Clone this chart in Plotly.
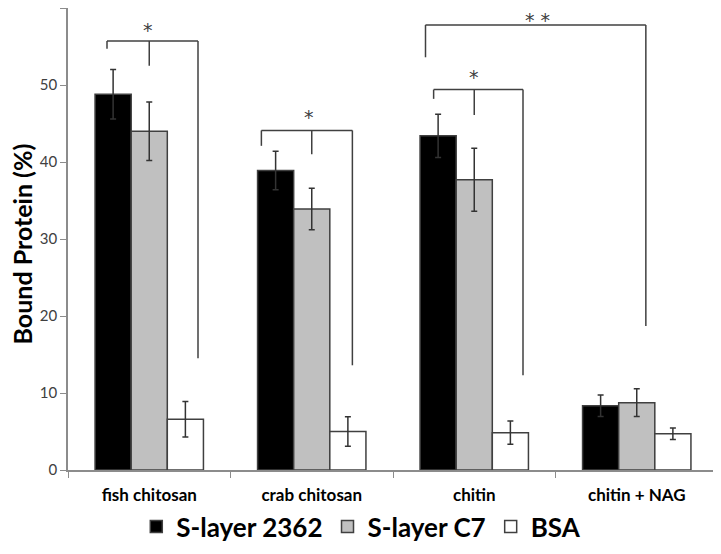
import plotly.graph_objects as go

categories = ["fish chitosan", "crab chitosan", "chitin", "chitin + NAG"]
series_names = ["S-layer 2362", "S-layer C7", "BSA"]
s2362 = [48.8, 38.9, 43.4, 8.35]
s2362_err = [3.2, 2.5, 2.8, 1.4]
sc7 = [44.0, 33.9, 37.7, 8.75]
sc7_err = [3.8, 2.7, 4.1, 1.8]
bsa = [6.6, 5.0, 4.85, 4.7]
bsa_err = [2.3, 1.9, 1.5, 0.75]
colors = ["#000000", "#c0c0c0", "#ffffff"]

# significance brackets (x in category-index units, y in %)
br_top = [55.7, 44.1, 49.4, 57.8]
br_left_x = [-0.26, 0.69, 1.75, 1.70]
br_left_end = [54.7, 42.1, 48.2, 53.6]
br_right_x = [0.30, 1.25, 2.30, 3.056]
br_right_end = [14.5, 13.6, 12.3, 18.7]
br_mid_x = [0.0, 1.0, 2.0, None]
br_mid_end = [52.5, 41.0, 46.1, None]
star_text = ["*", "*", "*", "* *"]
star_x = [-0.01, 0.98, 2.0, 2.39]
star_y = [57.2, 45.8, 51.0, 58.4]

FONT = "Lato"
fig = go.Figure()
for name, vals, errs, col in zip(series_names, [s2362, sc7, bsa], [s2362_err, sc7_err, bsa_err], colors):
    fig.add_trace(go.Bar(
        name=name, x=categories, y=vals,
        marker=dict(color=col, line=dict(color="#404040", width=1.5)),
        error_y=dict(type="data", array=errs, color="#333333", thickness=1.5, width=3),
    ))

line = dict(color="#404040", width=1.5)
shapes = []
for i in range(len(br_top)):
    shapes.append(dict(type="line", xref="x", yref="y", x0=br_left_x[i], x1=br_right_x[i], y0=br_top[i], y1=br_top[i], line=line))
    shapes.append(dict(type="line", xref="x", yref="y", x0=br_left_x[i], x1=br_left_x[i], y0=br_top[i], y1=br_left_end[i], line=line))
    shapes.append(dict(type="line", xref="x", yref="y", x0=br_right_x[i], x1=br_right_x[i], y0=br_top[i], y1=br_right_end[i], line=line))
    if br_mid_x[i] is not None:
        shapes.append(dict(type="line", xref="x", yref="y", x0=br_mid_x[i], x1=br_mid_x[i], y0=br_top[i], y1=br_mid_end[i], line=line))

annotations = [dict(x=sx, y=sy, xref="x", yref="y", text=t, showarrow=False,
                    font=dict(family="DejaVu Sans", size=19, color="#404040"), yanchor="middle")
               for sx, sy, t in zip(star_x, star_y, star_text)]
annotations.append(dict(x=-0.071, y=0.49, xref="paper", yref="paper", text="<b>Bound Protein (%)</b>",
                        textangle=-90, showarrow=False, xanchor="center", yanchor="middle",
                        font=dict(family=FONT, size=25, color="#000000")))

fig.update_layout(
    width=721, height=554,
    margin=dict(l=60, r=11, t=0, b=92),
    paper_bgcolor="white", plot_bgcolor="white",
    barmode="group", bargap=0.333, bargroupgap=0,
    font=dict(family=FONT, color="#000000"),
    shapes=shapes, annotations=annotations,
    legend=dict(orientation="h", xref="container", yref="container",
                x=0.49, xanchor="center", y=0.064, yanchor="middle",
                bgcolor="rgba(0,0,0,0)",
                font=dict(family=FONT, size=26, color="#000000", weight="bold"), itemwidth=30,
                traceorder="normal"),
    xaxis=dict(showline=True, linecolor="#8c8c8c", linewidth=1.5, ticks="outside",
               tickson="boundaries", ticklen=6, tickcolor="#8c8c8c", automargin=False,
               ticklabelstandoff=9,
               tickfont=dict(family=FONT, size=17, color="#000000", weight="bold"), showgrid=False),
    yaxis=dict(range=[0, 60], dtick=10, showline=True, linecolor="#8c8c8c", linewidth=1.5,
               ticks="outside", ticklen=6, tickcolor="#8c8c8c", showgrid=False, zeroline=False,
               automargin=False,
               tickfont=dict(family=FONT, size=15, color="#404040")),
)

fig.write_html("out.html")
